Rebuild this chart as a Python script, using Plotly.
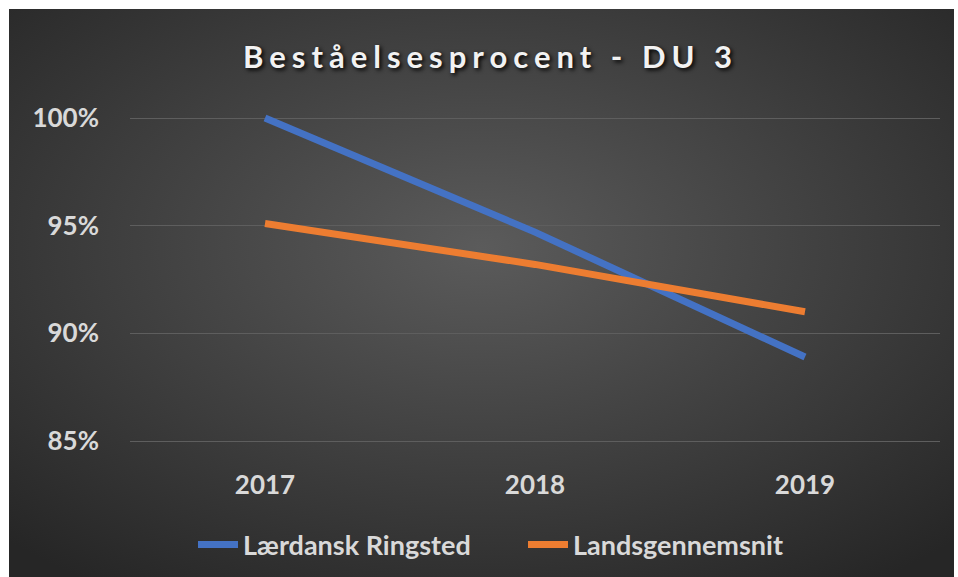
import base64
import plotly.graph_objects as go

years = ["2017", "2018", "2019"]
laerdansk = [100.0, 94.7, 88.9]
landsgennemsnit = [95.1, 93.2, 91.0]
series_names = ["Lærdansk Ringsted", "Landsgennemsnit"]
y_tickvals = [85, 90, 95, 100]
y_ticktext = ["85%", "90%", "95%", "100%"]
title_text = "Beståelsesprocent - DU 3"

W, H = 958, 577
FONT = "Lato"

# y axis: 85% at px 441, 100% at px 118 (padded so edge gridlines show)
y_lo, y_hi = 84.8, 100.2
ppu = (441 - 118) / 15.0
y_top_px = 118 - (y_hi - 100) * ppu
y_bot_px = 441 + (85 - y_lo) * ppu

svg = (
    "<svg xmlns='http://www.w3.org/2000/svg' width='946' height='568' preserveAspectRatio='none'>"
    "<defs><radialGradient id='g' cx='50%' cy='42%' r='72%'>"
    "<stop offset='0' stop-color='#5b5b5b'/><stop offset='1' stop-color='#262626'/>"
    "</radialGradient></defs><rect width='100%' height='100%' fill='url(#g)'/></svg>"
)
bg_src = "data:image/svg+xml;base64," + base64.b64encode(svg.encode()).decode()

fig = go.Figure()
fig.add_trace(go.Scatter(x=years, y=laerdansk, mode="lines", name=series_names[0],
                         line=dict(color="#4472C4", width=7)))
fig.add_trace(go.Scatter(x=years, y=landsgennemsnit, mode="lines", name=series_names[1],
                         line=dict(color="#ED7D31", width=7)))

fig.update_layout(
    width=W, height=H,
    margin=dict(l=0, r=0, t=0, b=0, autoexpand=False),
    paper_bgcolor="white",
    plot_bgcolor="rgba(0,0,0,0)",
    images=[dict(source=bg_src, xref="paper", yref="paper",
                 x=9 / W, y=1 - 9 / H, sizex=(954 - 9) / W, sizey=(577 - 9) / H,
                 xanchor="left", yanchor="top", sizing="stretch", layer="below")],
    xaxis=dict(domain=[130 / W, 940 / W], range=[-0.5, 2.5], showgrid=False,
               zeroline=False, showline=False, ticks="",
               tickfont=dict(family=FONT, size=26, color="#d9d9d9", weight="bold"),
               ticklabelstandoff=int(round(26 - (y_bot_px - 441)))),
    yaxis=dict(domain=[1 - y_bot_px / H, 1 - y_top_px / H], range=[y_lo, y_hi],
               tickvals=y_tickvals, ticktext=y_ticktext, showgrid=True,
               gridcolor="#5e5e5e", gridwidth=1, zeroline=False, showline=False, ticks="",
               tickfont=dict(family=FONT, size=26, color="#d9d9d9", weight="bold"),
               ticklabelstandoff=30),
    showlegend=True,
    legend=dict(orientation="h", x=193 / W, xanchor="left", y=1 - 545 / H, yanchor="middle",
                font=dict(family=FONT, size=27, color="#d9d9d9", weight="bold"),
                bgcolor="rgba(0,0,0,0)", entrywidth=275, entrywidthmode="pixels",
                itemwidth=40),
    annotations=[dict(text="<span style='letter-spacing:6px'>" + title_text + "</span>",
                      xref="paper", yref="paper", x=490 / W, y=1 - 56 / H,
                      xanchor="center", yanchor="middle", showarrow=False,
                      font=dict(family=FONT, size=31, color="#f2f2f2", weight="bold",
                                shadow="2px 2px 4px #000000"))],
)

fig.write_html("out.html", config={"displayModeBar": False},
               post_script="document.body.style.margin='0px';")
